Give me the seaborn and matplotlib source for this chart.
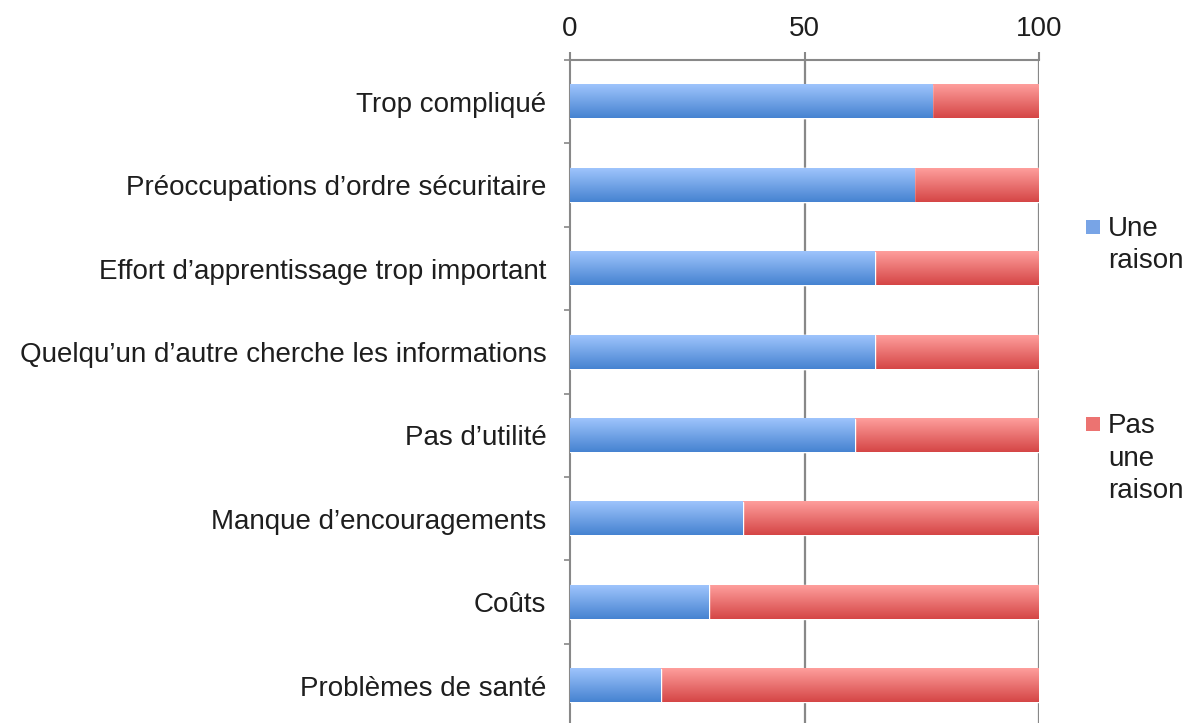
"""
Stacked 100% bar chart: reasons for not using the internet.
"""

import numpy as np
import matplotlib
matplotlib.use('Agg')
import matplotlib.pyplot as plt
import seaborn as sns
from matplotlib.colors import LinearSegmentedColormap
from matplotlib.patches import Rectangle

# Data
categories = [
    'Trop compliqué',
    'Préoccupations d’ordre sécuritaire',
    'Effort d’apprentissage trop important',
    'Quelqu’un d’autre cherche les informations',
    'Pas d’utilité',
    'Manque d’encouragements',
    'Coûts',
    'Problèmes de santé',
]
une_raison = [77.2, 73.4, 65.0, 65.0, 60.7, 36.8, 29.6, 19.4]
pas_une_raison = [22.8, 26.6, 35.0, 35.0, 39.3, 63.2, 70.4, 80.6]
x_ticks = [0, 50, 100]
legend_labels = [['Une', 'raison'], ['Pas', 'une', 'raison']]

# Colours (top -> bottom gradient of each bar)
BLUE_TOP, BLUE_BOT = '#9ec4fc', '#4683d1'
RED_TOP, RED_BOT = '#fe9e9c', '#d54646'
GRID = '#888888'
TEXT = '#1e1e1e'

sns.set_style('white')
plt.rcParams['font.family'] = ['Liberation Sans', 'DejaVu Sans']

W, H, DPI = 1187, 723, 100
fig = plt.figure(figsize=(W / DPI, H / DPI), dpi=DPI)

# Axes placed in pixel terms (top of plot at y=60, x=0 at 570, x=100 at 1039)
left, right, top, band = 570, 1039, 60, 83.4
bottom = top + band * len(categories)
ax = fig.add_axes([left / W, (H - bottom) / H, (right - left) / W, (bottom - top) / H])

totals = [a + b for a, b in zip(une_raison, pas_une_raison)]

sns.barplot(x=totals, y=categories, orient='h', color=RED_BOT, width=0.4,
            ax=ax, zorder=2)
sns.barplot(x=une_raison, y=categories, orient='h', color=BLUE_BOT, width=0.4,
            ax=ax, zorder=3)

# Gradient fill on top of each bar patch
n = len(categories)
grad = np.linspace(0, 1, 64).reshape(-1, 1)
cmaps = [LinearSegmentedColormap.from_list('red', [RED_TOP, RED_BOT]),
         LinearSegmentedColormap.from_list('blue', [BLUE_TOP, BLUE_BOT])]
for i, patch in enumerate(list(ax.patches)):
    x0, y0 = patch.get_x(), patch.get_y()
    w, h = patch.get_width(), patch.get_height()
    cmap = cmaps[0] if i < n else cmaps[1]
    ax.imshow(grad, cmap=cmap, aspect='auto', origin='upper',
              extent=(x0, x0 + w, y0 + h, y0), zorder=patch.get_zorder() + 0.5,
              interpolation='bilinear')

ax.set_xlim(0, 100)
ax.set_ylim(n - 0.5, -0.5)

# Axes styling
ax.xaxis.tick_top()
ax.set_xticks(x_ticks)
ax.set_xticklabels([str(t) for t in x_ticks])
ax.tick_params(axis='x', which='major', length=6, width=1.5, color=GRID,
               labelsize=20, labelcolor=TEXT, pad=7, direction='out')
ax.tick_params(axis='y', which='major', length=0, labelsize=20,
               labelcolor=TEXT, pad=17)
ax.set_yticks(np.arange(-0.5, n, 1.0), minor=True)
ax.tick_params(axis='y', which='minor', length=4, width=1.2, color=GRID,
               direction='out', left=True)
ax.set_xlabel('')
ax.set_ylabel('')

for side in ['right', 'bottom']:
    ax.spines[side].set_visible(False)
for side in ['top', 'left']:
    ax.spines[side].set_color(GRID)
    ax.spines[side].set_linewidth(1.5)

ax.grid(False)
for t in x_ticks[1:]:
    ax.axvline(t, color=GRID, lw=1.6, zorder=1)

# Legend drawn by hand so the marker sits on the first line
legend_colors = [(BLUE_TOP, BLUE_BOT), (RED_TOP, RED_BOT)]
first_baselines = [236, 433]
line_step = 32.5
for labels, (c_top, c_bot), base in zip(legend_labels, legend_colors, first_baselines):
    sq = Rectangle((1086 / W, 1 - (base - 2) / H), 14 / W, 14 / H,
                   transform=fig.transFigure, facecolor='#78a4e6' if c_top == BLUE_TOP else '#ec7371',
                   edgecolor='none')
    fig.add_artist(sq)
    for k, line in enumerate(labels):
        fig.text(1108 / W, 1 - (base + k * line_step) / H, line,
                 fontsize=20, color=TEXT, va='baseline', ha='left')

fig.savefig('out.png', dpi=DPI)
